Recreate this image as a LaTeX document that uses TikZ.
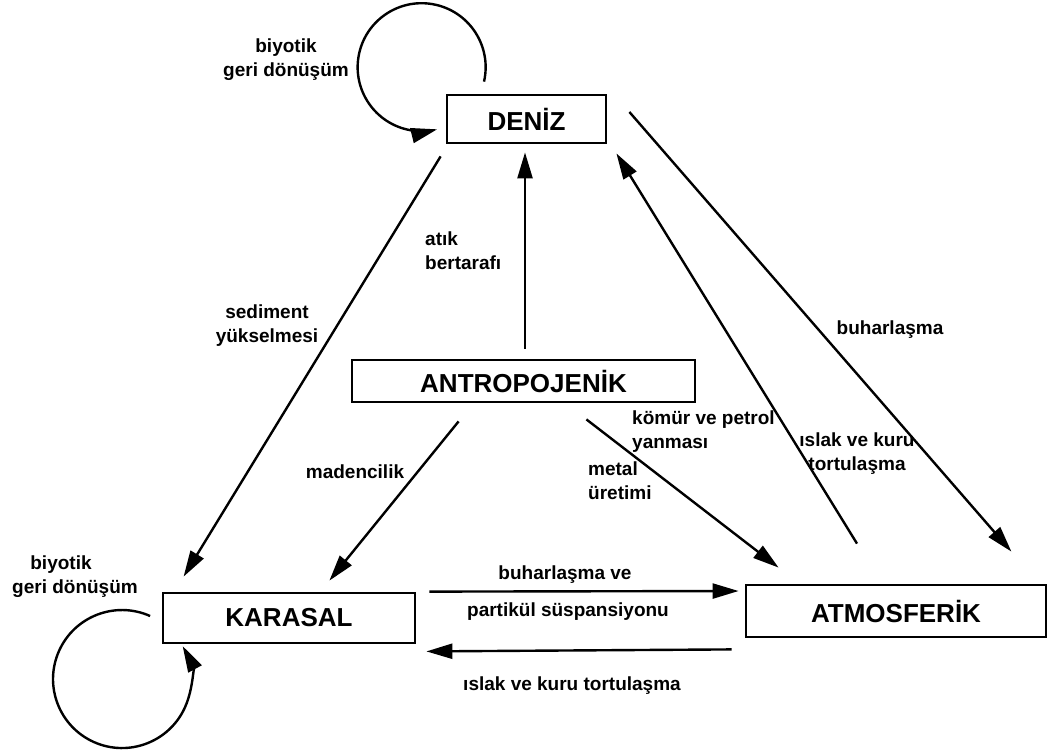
\documentclass[tikz,border=0pt]{standalone}
\usepackage{fontspec}
\setmainfont{Liberation Sans}
\usetikzlibrary{arrows.meta}
\tikzset{
  box/.style={draw, line width=2.8pt, inner sep=0pt, font=\bfseries\fontsize{26}{30}\selectfont},
  lbl/.style={inner sep=0pt, font=\bfseries\fontsize{19}{24}\selectfont},
  arr/.style={line width=2.4pt, -{Triangle[length=26pt,width=15pt]}},
}
\begin{document}
\begin{tikzpicture}[x=1pt,y=-1pt]
\useasboundingbox (0,0) rectangle (1048,753);
% boxes
\node[box, minimum width=159pt, minimum height=48pt] (deniz) at (526.5,119) {DENİZ};
\node[box, minimum width=343pt, minimum height=42pt] (antro) at (523.5,381) {ANTROPOJENİK};
\node[box, minimum width=252pt, minimum height=50pt] (karasal) at (289,618) {KARASAL};
\node[box, minimum width=300pt, minimum height=52pt] (atmos) at (896,611) {ATMOSFERİK};
% connectors
\draw[arr] ([shift={(-5,12)}]deniz.south west) -- ([shift={(22,-15)}]karasal.north west);
\draw[arr] ([shift={(1.5,-10)}]antro.north) -- ([shift={(-1.5,8)}]deniz.south);
\draw[arr] ([shift={(108,18)}]antro.south west) -- ([shift={(-87,-11)}]karasal.north east);
\draw[arr] ([shift={(-110,16)}]antro.south east) -- ([shift={(34,-16)}]atmos.north west);
\draw[arr] ([shift={(-39,-40)}]atmos.north) -- ([shift={(9,9)}]deniz.south east);
\draw[arr] ([shift={(22,-7)}]deniz.east) -- ([shift={(-36,-32)}]atmos.north east);
\draw[arr] ([shift={(13,0)}]karasal.north east) -- ([shift={(-6,-20)}]atmos.west);
\draw[arr] ([shift={(-13,11)}]atmos.south west) -- ([shift={(10,7)}]karasal.south east);
% self loops
\draw[arr] ([shift={(38.4,-12)}]deniz.north west) arc[start angle=13, end angle=-284, radius=64];
\draw[arr] ([shift={(-11.5,-2)}]karasal.west) arc[start angle=-66, end angle=-388.5, radius=69];
% labels
\node[lbl, align=center] (l1) at (286,60) {biyotik\\geri dönüşüm};
\node[lbl] (l2a) at (61,565) {biyotik};
\node[lbl] (l2b) at (75,589) {geri dönüşüm};
\node[lbl, align=left, anchor=west] (l3) at (425,251) {atık\\bertarafı};
\node[lbl, align=center] (l4) at (267,326) {sediment\\yükselmesi};
\node[lbl] (l5) at (355,472) {madencilik};
\node[lbl, align=left, anchor=west] (l6) at (632,432) {kömür ve petrol\\yanması};
\node[lbl, align=left, anchor=west] (l7) at (588,481) {metal\\üretimi};
\node[lbl, align=center] (l8) at (857,454) {ıslak ve kuru\\tortulaşma};
\node[lbl] (l9) at (890,330) {buharlaşma};
\node[lbl] (l10) at (565,575) {buharlaşma ve};
\node[lbl] (l11) at (568,612) {partikül süspansiyonu};
\node[lbl] (l12) at (572,686) {ıslak ve kuru tortulaşma};
\end{tikzpicture}
\end{document}
